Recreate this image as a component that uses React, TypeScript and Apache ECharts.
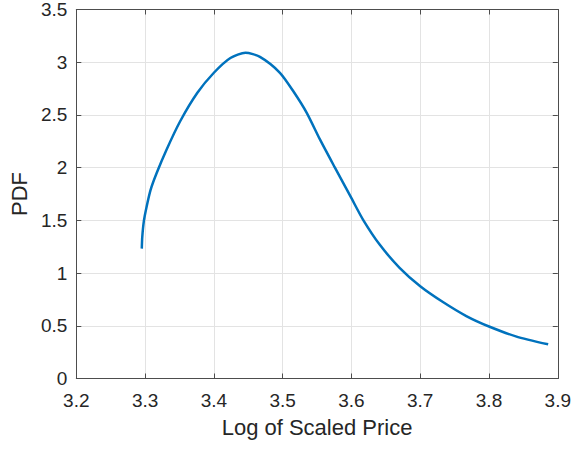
import React, { useEffect, useRef } from "react";
import * as echarts from "echarts";

const xValues = [3.2952, 3.2959, 3.2983, 3.3022, 3.308, 3.3167, 3.331, 3.351, 3.376, 3.4, 3.424, 3.446, 3.467, 3.496, 3.516, 3.535, 3.554, 3.576, 3.6, 3.617, 3.641, 3.67, 3.7, 3.733, 3.767, 3.8, 3.839, 3.886];
const pdfValues = [1.232, 1.344, 1.497, 1.63, 1.79, 1.947, 2.168, 2.44, 2.71, 2.9, 3.04, 3.09, 3.05, 2.9, 2.72, 2.52, 2.27, 2.0, 1.71, 1.505, 1.27, 1.05, 0.875, 0.725, 0.592, 0.493, 0.4, 0.324];

const xTicks = { min: 3.2, max: 3.9, interval: 0.1 };
const yTicks = { min: 0, max: 3.5, interval: 0.5 };

const FONT = "Liberation Sans, Arial, Helvetica, sans-serif";
const TEXT = "#262626";
const AXIS = "#4d4d4d";

export default function App() {
  const ref = useRef<HTMLDivElement>(null);
  useEffect(() => {
    if (!ref.current) return;
    const chart = echarts.init(ref.current, undefined, { renderer: "svg" });
    const data = xValues.map((x, i) => [x, pdfValues[i]]);
    const common = {
      axisLine: { show: true, onZero: false, lineStyle: { color: AXIS, width: 1 } },
      axisTick: { show: true, inside: true, length: 5, lineStyle: { color: AXIS } },
    };
    chart.setOption({
      animation: false,
      backgroundColor: "#ffffff",
      grid: { left: 75.5, right: 15.5, top: 9.5, bottom: 70.5, containLabel: false },
      xAxis: [
        {
          type: "value",
          ...xTicks,
          ...common,
          name: "Log of Scaled Price",
          nameLocation: "middle",
          nameGap: 38,
          nameTextStyle: { color: TEXT, fontSize: 22, fontFamily: FONT },
          axisLabel: {
            color: TEXT,
            fontSize: 19,
            fontFamily: FONT,
            margin: 12,
            formatter: (v: number) => String(Math.round(v * 10) / 10),
          },
          splitLine: { show: true, lineStyle: { color: "#e3e3e3", width: 1 } },
        },
        {
          type: "value",
          position: "top",
          ...xTicks,
          ...common,
          axisLabel: { show: false },
          splitLine: { show: false },
        },
      ],
      yAxis: [
        {
          type: "value",
          ...yTicks,
          ...common,
          name: "PDF",
          nameLocation: "middle",
          nameGap: 42,
          nameTextStyle: { color: TEXT, fontSize: 22, fontFamily: FONT },
          axisLabel: {
            color: TEXT,
            fontSize: 19,
            fontFamily: FONT,
            margin: 9,
            formatter: (v: number) => String(Math.round(v * 10) / 10),
          },
          splitLine: { show: true, lineStyle: { color: "#e3e3e3", width: 1 } },
        },
        {
          type: "value",
          position: "right",
          ...yTicks,
          ...common,
          axisLabel: { show: false },
          splitLine: { show: false },
        },
      ],
      series: [
        {
          type: "line",
          data,
          smooth: 0.25,
          showSymbol: false,
          symbol: "none",
          lineStyle: { color: "#0072BD", width: 2.5 },
          z: 5,
        },
      ],
    });
    return () => chart.dispose();
  }, []);
  return (
    <div
      ref={ref}
      style={{ position: "fixed", left: 0, top: 0, width: 574, height: 449, background: "#fff" }}
    />
  );
}
